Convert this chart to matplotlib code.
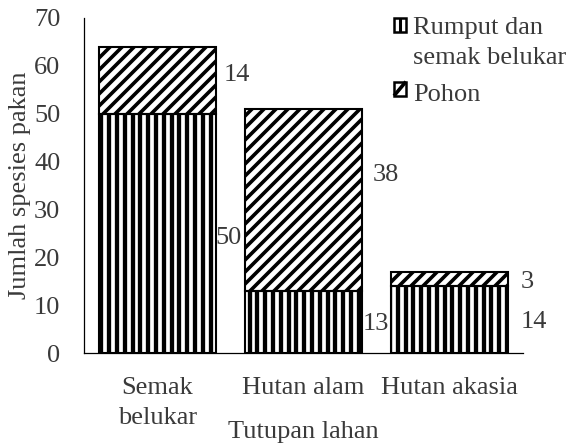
import matplotlib
matplotlib.use("Agg")
import matplotlib.pyplot as plt
import numpy as np
from matplotlib.collections import LineCollection
from matplotlib.transforms import IdentityTransform
from matplotlib.legend_handler import HandlerBase
from matplotlib.patches import Rectangle, Patch
from matplotlib.lines import Line2D

# ---- data ----
categories = ["Semak\nbelukar", "Hutan alam", "Hutan akasia"]
rumput = [50, 13, 14]
pohon = [14, 38, 3]
series_names = ["Rumput dan\nsemak belukar", "Pohon"]
yticks = [0, 10, 20, 30, 40, 50, 60, 70]

plt.rcParams['font.family'] = ['Liberation Serif', 'DejaVu Serif']

txt_color = '#3a3a3a'
fs = 19
DPI = 100

fig = plt.figure(figsize=(5.69, 4.45), dpi=DPI)
ax = fig.add_axes([84/569, 1-353/445, 439/569, 335/445])

x = np.arange(len(categories))
w = 0.8
ax.set_xlim(-0.5, len(categories) - 0.5)
ax.set_ylim(0, 70)

# white fills
f1 = ax.bar(x, rumput, width=w, color='white', edgecolor='none', zorder=1)
f2 = ax.bar(x, pohon, width=w, bottom=rumput, color='white', edgecolor='none', zorder=1)


def hatch_bar(rect, kind, spacing, lw):
    bb = rect.get_window_extent()
    x0, y0, x1, y1 = bb.x0, bb.y0, bb.x1, bb.y1
    segs = []
    if kind == 'v':
        for k in np.arange(np.floor(x0 / spacing), np.ceil(x1 / spacing) + 1):
            xv = k * spacing
            segs.append([(xv, y0 - 2), (xv, y1 + 2)])
    else:
        cmin, cmax = x0 - y1, x1 - y0
        for k in np.arange(np.floor(cmin / spacing), np.ceil(cmax / spacing) + 1):
            c = k * spacing
            segs.append([(c + y0 - 2, y0 - 2), (c + y1 + 2, y1 + 2)])
    lc = LineCollection(segs, colors='black', linewidths=lw,
                        transform=IdentityTransform(), zorder=1.5)
    ax.add_collection(lc, autolim=False)
    lc.set_clip_path(rect)


for r in f1.patches:
    hatch_bar(r, 'v', 7.8, 3.1)
for r in f2.patches:
    hatch_bar(r, 'd', 12.0, 2.6)

# outlines
ax.bar(x, rumput, width=w, fill=False, edgecolor='black', linewidth=1.5, zorder=2)
ax.bar(x, pohon, width=w, bottom=rumput, fill=False, edgecolor='black',
       linewidth=1.5, zorder=2)

ax.set_yticks(yticks)
ax.set_xticks(x)
ax.set_xticklabels(categories, fontsize=fs, color=txt_color, linespacing=1.48)
ax.tick_params(axis='y', length=0, pad=17, labelsize=fs, labelcolor=txt_color)
ax.tick_params(axis='x', length=0, pad=17.5, labelsize=fs, labelcolor=txt_color)

for s in ['top', 'right']:
    ax.spines[s].set_visible(False)
for s in ['left', 'bottom']:
    ax.spines[s].set_linewidth(0.9)
    ax.spines[s].set_color('black')

ax.set_xlabel("Tutupan lahan", fontsize=fs, color=txt_color)
ax.set_ylabel("Jumlah spesies pakan", fontsize=fs, color=txt_color)
ax.yaxis.set_label_coords(-0.12, 0.5)
ax.xaxis.set_label_coords(0.5, -0.203)

# ---- value labels (right of each segment) ----
# (horizontal offset in px from bar right edge, vertical shift in data units)
rum_off = [(0, -1.0), (1, -0.4), (12, -0.5)]
poh_off = [(8, 1.1), (11, 5.2), (12, -0.7)]
for i in range(len(categories)):
    xr = x[i] + w / 2
    dx, dy = rum_off[i]
    ax.annotate(str(rumput[i]), (xr, rumput[i] / 2 + dy), xytext=(dx * 0.72, 0),
                textcoords='offset points', ha='left', va='center',
                fontsize=fs, color=txt_color, zorder=3)
    dx, dy = poh_off[i]
    ax.annotate(str(pohon[i]), (xr, rumput[i] + pohon[i] / 2 + dy), xytext=(dx * 0.72, 0),
                textcoords='offset points', ha='left', va='center',
                fontsize=fs, color=txt_color, zorder=3)


# ---- legend with small hatched boxes ----
class HatchBoxHandler(HandlerBase):
    def __init__(self, kind, yshift=0.0):
        super().__init__()
        self.kind = kind
        self.yshift = yshift

    def create_artists(self, legend, orig_handle, xdescent, ydescent,
                       width, height, fontsize, trans):
        x0 = -xdescent
        y0 = -ydescent + self.yshift
        rect = Rectangle((x0, y0), width, height, facecolor='white',
                         edgecolor='black', lw=1.8, transform=trans)
        if self.kind == 'v':
            ln = Line2D([x0 + width / 2] * 2, [y0, y0 + height], color='black',
                        lw=2.2, transform=trans, solid_capstyle='butt')
        else:
            ln = Line2D([x0, x0 + width], [y0, y0 + height], color='black',
                        lw=2.6, transform=trans, solid_capstyle='butt')
        return [rect, ln]


p1 = Patch(label=series_names[0])
p2 = Patch(label=series_names[1])
leg = fig.legend(handles=[p1, p2], labels=series_names, loc='upper left',
                 bbox_to_anchor=(394/569, 1 - 17/445), frameon=False,
                 fontsize=fs, handlelength=0.45, handleheight=0.45,
                 handletextpad=0.27, borderpad=0, borderaxespad=0,
                 labelspacing=0.57, labelcolor=txt_color,
                 handler_map={p1: HatchBoxHandler('v', 12.2),
                              p2: HatchBoxHandler('d', 2.2)})
for t in leg.get_texts():
    t.set_linespacing(1.48)

fig.savefig("out.png", dpi=DPI)
